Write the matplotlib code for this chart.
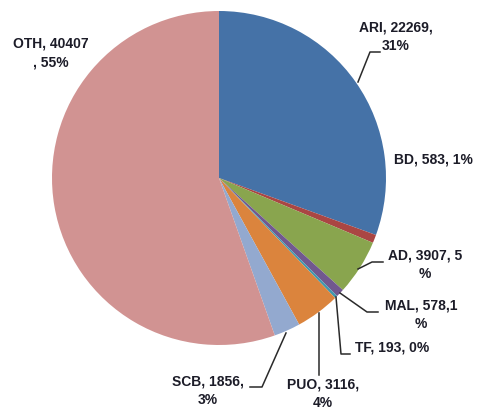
import matplotlib
matplotlib.use("Agg")
import matplotlib.pyplot as plt

# data
labels = ['ARI', 'BD', 'AD', 'MAL', 'TF', 'PUO', 'SCB', 'OTH']
values = [22269, 583, 3907, 578, 193, 3116, 1856, 40407]
colors = ['#4572A7', '#AA4643', '#89A54E', '#71588F', '#4198AF',
          '#DB843D', '#93A9CF', '#D19392']

# label text, position (pixels from top-left) and leader line
label_text = ['ARI, 22269,\n31%', 'BD, 583, 1%', 'AD, 3907, 5\n%', 'MAL, 578,1\n%',
              'TF, 193, 0%', 'PUO, 3116,\n4%', 'SCB, 1856,\n3%', 'OTH, 40407\n, 55%']
label_pos = [(396, 37), (433, 159), (425, 265), (421, 315),
             (392, 348), (323, 394), (208, 391), (51, 53)]
leaders = [
    [(358, 82), (370, 52), (380, 52)],
    None,
    [(358, 269), (372, 262), (383, 262)],
    [(340, 293), (367, 312), (378, 312)],
    [(336, 297), (341, 354), (350, 354)],
    [(319, 313), (319, 375)],
    [(286, 333), (262, 387), (250, 387)],
    None,
]

W, H = 478, 412
fig = plt.figure(figsize=(W / 100, H / 100), dpi=100)
ax = fig.add_axes([0, 0, 1, 1])

ax.pie(values, colors=colors, startangle=90, counterclock=False,
       center=(219, H - 178), radius=167, frame=True,
       wedgeprops=dict(linewidth=0))
ax.set_xlim(0, W)
ax.set_ylim(0, H)
ax.set_aspect('equal')
ax.axis('off')

for txt, (x, y), ld in zip(label_text, label_pos, leaders):
    ax.text(x, H - y, txt, ha='center', va='center', fontsize=10,
            fontweight='bold', family='Liberation Sans', color='#1c1c28',
            linespacing=1.45)
    if ld:
        xs = [p[0] for p in ld]
        ys = [H - p[1] for p in ld]
        ax.plot(xs, ys, color='#2a2a2a', lw=1.1)

fig.savefig('out.png', dpi=100)
